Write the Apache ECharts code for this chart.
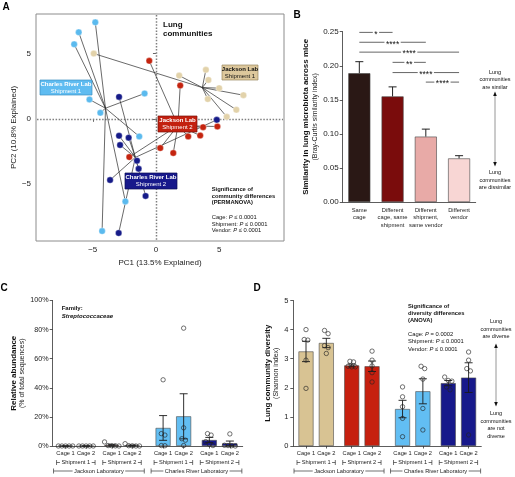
<!DOCTYPE html>
<html><head><meta charset="utf-8">
<script src="https://cdn.jsdelivr.net/npm/echarts@6/dist/echarts.min.js"></script>
<style>html,body{margin:0;padding:0;background:#fff}#c{width:515px;height:477px}</style>
</head><body><div id="c"></div>
<script>
// ---------------- Panel A: PCA of lung communities (PC1, PC2) ----------------
const pcaJacksonS1 = [[-4.92,5.0],[1.84,3.31],[3.95,3.75],[4.15,2.98],[5.0,2.35],[6.92,1.81],[4.1,1.51],[6.36,0.69],[5.6,0.15]];
const pcaJacksonS2 = [[-0.53,4.44],[1.92,2.55],[-2.11,-2.93],[0.34,-2.24],[1.37,-2.62],[2.55,-1.35],[3.5,-1.28],[3.73,-0.64],[4.86,-0.59]];
const pcaCharlesS1 = [[-4.80,7.39],[-6.11,6.63],[-6.47,5.71],[-5.26,1.48],[-4.40,0.46],[-0.90,1.94],[-1.32,-1.35],[-2.42,-6.33],[-4.26,-8.6]];
const pcaCharlesS2 = [[-2.92,1.68],[-2.92,-1.30],[-2.16,-1.45],[-2.84,-2.01],[-1.5,-3.21],[-1.37,-3.83],[-3.63,-4.69],[-0.82,-5.91],[-2.95,-8.75],[4.81,-0.08]];
const pcaTicks = [-5, 0, 5];

// ---------------- Panel B: Bray-Curtis similarity ----------------
const simCategories = ['Same\ncage','Different\ncage, same\nshipment','Different\nshipment,\nsame vendor','Different\nvendor'];
const simMeans = [0.189, 0.155, 0.096, 0.064];
const simSem = [0.017, 0.014, 0.011, 0.004];
const simComparisons = [[0,1,'*'],[0,2,'****'],[0,3,'****'],[1,2,'**'],[1,3,'****'],[2,3,'****']];
const simComparisonLevels = [0.249, 0.2345, 0.22, 0.205, 0.19, 0.176];

// ---------------- Panels C & D: per cage groups ----------------
const cageLabels = ['Cage 1','Cage 2','Cage 1','Cage 2','Cage 1','Cage 2','Cage 1','Cage 2'];
const shipmentLabels = ['Shipment 1','Shipment 2','Shipment 1','Shipment 2'];
const labLabels = ['Jackson Laboratory','Charles River Laboratory'];

const streptoMeans = [0, 0, 0.6, 0.4, 12.4, 20.4, 4.1, 1.8];
const streptoSem = [0, 0, 0.5, 0.3, 8.5, 15.5, 1.8, 1.6];
const streptoPoints = [
  [0,0,0,0,0],[0,0,0,0,0],[2.8,0.3,0.2,0.1,0],[1.6,0.2,0.1,0,0],
  [45.5,8.5,7.5,0.3,0.2],[81,12.5,5,4,0.3],[8.5,7.5,3,1.2,0.3],[8.3,0.5,0.3,0.2,0]
];
const shannonMeans = [3.25, 3.54, 2.77, 2.74, 1.27, 1.88, 2.16, 2.35];
const shannonSem = [0.35, 0.16, 0.05, 0.18, 0.30, 0.43, 0.09, 0.51];
const shannonPoints = [
  [4.0,3.66,3.64,2.95,1.98],[3.97,3.86,3.45,3.38,3.18],[2.91,2.89,2.74,2.72,2.72],[3.26,2.95,2.75,2.52,2.2],
  [2.03,1.69,1.35,0.95,0.32],[2.74,2.66,2.3,1.29,0.55],[2.37,2.25,2.23,2.03,1.93],[3.23,2.95,2.66,2.58,0.38]
];

// ---------------- styling / layout ----------------
const FONT = '"Liberation Sans", Arial, sans-serif';
const groupFill = ['#d8c393','#c6200f','#62bef3','#17198b'];
const groupPoint = ['#e2d2aa','#c4240f','#5bbaee','#161b88'];
const simFill = ['#2a1815','#7a0c0c','#e8aaa7','#f8d6d4'];
const SLOTS = 37;
const barSlot = [2,6,11,15,21,25,30,34];
const slotNames = Array.from({length:SLOTS}, (_, i) => { const k = barSlot.indexOf(i); return k >= 0 ? cageLabels[k] : ''; });
const slotSet = new Set(barSlot);
const PCA_X = [-9.49, 10.13], PCA_Y = [-9.36, 8.03];

const chart = echarts.init(document.getElementById('c'));

function centroid(p) { let x = 0, y = 0; p.forEach(q => { x += q[0]; y += q[1]; }); return [x / p.length, y / p.length]; }
function swarm(values, pxPerUnit, spacing, thresh) {
  const idx = values.map((v, i) => i).sort((a, b) => values[b] - values[a]);
  const offs = new Array(values.length).fill(0);
  let cl = [idx[0]];
  const flush = () => { const n = cl.length; cl.forEach((k, j) => { offs[k] = (j - (n - 1) / 2) * spacing; }); };
  for (let t = 1; t < idx.length; t++) {
    if ((values[idx[t - 1]] - values[idx[t]]) * pxPerUnit < thresh) cl.push(idx[t]); else { flush(); cl = [idx[t]]; }
  }
  flush();
  return offs;
}

const series = [];
const pcaGroups = [pcaJacksonS1, pcaJacksonS2, pcaCharlesS1, pcaCharlesS2];
pcaGroups.forEach((pts, g) => {
  const c = centroid(pts);
  series.push({type:'lines', coordinateSystem:'cartesian2d', xAxisIndex:0, yAxisIndex:0, silent:true, z:4,
    lineStyle:{color:'#2a2a2a', width:0.7, opacity:1},
    data: pts.map(p => ({coords:[c, p]}))});
});
pcaGroups.forEach((pts, g) => {
  series.push({type:'scatter', xAxisIndex:0, yAxisIndex:0, data:pts, symbolSize:6.5, z:5, silent:true,
    itemStyle:{color:groupPoint[g], borderColor:'rgba(255,255,255,0.6)', borderWidth:0.6, opacity:1}});
});

// Panel B
series.push({type:'bar', xAxisIndex:1, yAxisIndex:1, barWidth:22, silent:true,
  data: simMeans.map((v, i) => ({value:v, itemStyle:{color:simFill[i]}})),
  itemStyle:{borderColor:'#444', borderWidth:0.6}});
series.push({type:'custom', xAxisIndex:1, yAxisIndex:1, silent:true, z:5, encode:{x:0, y:1},
  data: simMeans.map((m, i) => [i, m, m + simSem[i]]),
  renderItem(params, api) {
    const a = api.coord([api.value(0), api.value(1)]), b = api.coord([api.value(0), api.value(2)]);
    const st = {stroke:'#222', lineWidth:1};
    return {type:'group', children:[
      {type:'line', shape:{x1:a[0], y1:a[1], x2:b[0], y2:b[1]}, style:st},
      {type:'line', shape:{x1:b[0]-4, y1:b[1], x2:b[0]+4, y2:b[1]}, style:st}]};
  }});
series.push({type:'custom', xAxisIndex:1, yAxisIndex:1, silent:true, z:6, encode:{x:0, y:2},
  data: simComparisons.map((c, k) => [c[0], c[1], simComparisonLevels[k]]),
  renderItem(params, api) {
    const a = api.coord([api.value(0), api.value(2)]), b = api.coord([api.value(1), api.value(2)]);
    return {type:'group', children:[
      {type:'line', shape:{x1:a[0], y1:a[1], x2:b[0], y2:b[1]}, style:{stroke:'#222', lineWidth:0.7}},
      {type:'text', x:(a[0]+b[0])/2, y:a[1]+2, style:{text:simComparisons[params.dataIndex][2], align:'center', verticalAlign:'middle',
        fontSize:8.5, fontFamily:FONT, fill:'#111', backgroundColor:'#fff', padding:[0,1.5]}}]};
  }});

// Panels C & D
function barPanel(axisIdx, means, sem, points, pxPerUnit) {
  series.push({type:'bar', xAxisIndex:axisIdx, yAxisIndex:axisIdx, barWidth:15, silent:true,
    data: slotNames.map((n, i) => { const k = barSlot.indexOf(i); return k < 0 ? null : {value:means[k], itemStyle:{color:groupFill[k >> 1]}}; }),
    itemStyle:{borderColor:'#4a4a4a', borderWidth:0.6}});
  series.push({type:'custom', xAxisIndex:axisIdx, yAxisIndex:axisIdx, silent:true, z:5, encode:{x:0, y:1},
    data: means.map((m, k) => [barSlot[k], m, Math.max(0, m - sem[k]), m + sem[k]]),
    renderItem(params, api) {
      const lo = api.coord([api.value(0), api.value(2)]), hi = api.coord([api.value(0), api.value(3)]);
      const st = {stroke:'#1a1a1a', lineWidth:0.9};
      return {type:'group', children:[
        {type:'line', shape:{x1:lo[0], y1:lo[1], x2:hi[0], y2:hi[1]}, style:st},
        {type:'line', shape:{x1:hi[0]-4, y1:hi[1], x2:hi[0]+4, y2:hi[1]}, style:st},
        {type:'line', shape:{x1:lo[0]-4, y1:lo[1], x2:lo[0]+4, y2:lo[1]}, style:st}]};
    }});
  const pts = [];
  points.forEach((vals, k) => {
    const offs = swarm(vals, pxPerUnit, 3.6, 4);
    vals.forEach((v, j) => pts.push({value:[barSlot[k], v], symbolOffset:[offs[j], 0]}));
  });
  series.push({type:'scatter', xAxisIndex:axisIdx, yAxisIndex:axisIdx, silent:true, z:7, symbolSize:4.4, data:pts,
    itemStyle:{color:'rgba(0,0,0,0)', borderColor:'#222', borderWidth:0.8}});
}
barPanel(2, streptoMeans, streptoSem, streptoPoints, 145.5 / 100);
barPanel(3, shannonMeans, shannonSem, shannonPoints, 145.5 / 5);

const axisLineSt = {show:true, lineStyle:{color:'#333', width:0.8}};
const tickSt = {show:true, length:3, lineStyle:{color:'#333', width:0.8}};
const minus = v => String(v).replace('-', '\u2212');
function slotXAxis(grid) {
  return {type:'category', gridIndex:grid, data:slotNames, boundaryGap:true, axisLine:axisLineSt,
    axisTick:{show:true, alignWithLabel:true, length:2.5, interval:(i) => slotSet.has(i), lineStyle:{color:'#333', width:0.8}},
    axisLabel:{interval:0, fontSize:5.7, color:'#222', margin:4, fontFamily:FONT}, splitLine:{show:false}};
}

const graphic = [];
function txt(x, y, s, o) {
  return {type:'text', x, y, silent:true, z:50, style:Object.assign({text:s, fill:'#111', fontSize:6, fontFamily:FONT, align:'left', verticalAlign:'middle'}, o || {})};
}
// panel letters
[['A',6,7],['B',297,15],['C',4,288],['D',257,288]].forEach(a => graphic.push(txt(a[1], a[2], a[0], {fontSize:10, fontWeight:'bold', align:'center', fill:'#000'})));
// Panel A annotations
graphic.push(txt(163, 25, 'Lung', {fontSize:8, fontWeight:'bold'}));
graphic.push(txt(163, 34, 'communities', {fontSize:8, fontWeight:'bold'}));
function labelBox(x, y, w, h, fill, stroke, color, l1, l2) {
  graphic.push({type:'rect', silent:true, z:40, shape:{x, y, width:w, height:h}, style:{fill, stroke, lineWidth:0.7}});
  graphic.push(txt(x + w / 2, y + h * 0.3, l1, {fontSize:6, fontWeight:'bold', fill:color, align:'center'}));
  graphic.push(txt(x + w / 2, y + h * 0.73, l2, {fontSize:6, fill:color, align:'center'}));
}
labelBox(40, 80, 52, 15, '#5fbcf1', '#3c8fc0', '#fff', 'Charles River Lab', 'Shipment 1');
labelBox(222, 65, 36, 15, '#dcc79c', '#9a8660', '#111', 'Jackson Lab', 'Shipment 1');
labelBox(158, 116, 39, 16, '#c3200f', '#7a1208', '#fff', 'Jackson Lab', 'Shipment 2');
labelBox(125, 173, 52, 16, '#17198b', '#0a0c55', '#fff', 'Charles River Lab', 'Shipment 2');
const rich = {b:{fontWeight:'bold', fontSize:5.8, fontFamily:FONT, fill:'#111'}, n:{fontSize:5.8, fontFamily:FONT, fill:'#111'}, i:{fontStyle:'italic', fontSize:5.8, fontFamily:FONT, fill:'#111'}};
function sigBlock(x, ys, head, lines) {
  head.forEach((h, k) => graphic.push(txt(x, ys[k], h, {fontSize:5.8, fontWeight:'bold'})));
  lines.forEach((l, k) => graphic.push(txt(x, ys[head.length + k], '{n|' + l[0] + ' }{i|P}{n|' + l[1] + '}', {rich})));
}
sigBlock(211.7, [189.5,196,202.5,217.5,224,230.5], ['Significance of','community differences','(PERMANOVA)'],
  [['Cage:',' \u2264 0.0001'],['Shipment:',' \u2264 0.0001'],['Vendor:',' \u2264 0.0001']]);
sigBlock(408, [306,313,320,334,341.5,349], ['Significance of','diversity differences','(ANOVA)'],
  [['Cage:',' = 0.0002'],['Shipment:',' \u2264 0.0001'],['Vendor:',' \u2264 0.0001']]);
graphic.push(txt(61.7, 308.5, 'Family:', {fontSize:6, fontWeight:'bold'}));
graphic.push(txt(61.7, 316, 'Streptococcaceae', {fontSize:6, fontWeight:'bold', fontStyle:'italic'}));
function arrowAnno(x, top, bottom, topLines, topY, botLines, botY) {
  topLines.forEach((s, k) => graphic.push(txt(x, topY + k * 7.5, s, {fontSize:5.5, align:'center'})));
  botLines.forEach((s, k) => graphic.push(txt(x, botY + k * 7.5, s, {fontSize:5.5, align:'center'})));
  graphic.push({type:'line', silent:true, shape:{x1:x, y1:top + 2, x2:x, y2:bottom - 2}, style:{stroke:'#8a8a8a', lineWidth:0.9}});
  graphic.push({type:'polygon', silent:true, shape:{points:[[x, top - 1.5],[x - 1.8, top + 3],[x + 1.8, top + 3]]}, style:{fill:'#111'}});
  graphic.push({type:'polygon', silent:true, shape:{points:[[x, bottom + 1.5],[x - 1.8, bottom - 3],[x + 1.8, bottom - 3]]}, style:{fill:'#111'}});
}
arrowAnno(495, 93, 165, ['Lung','communities','are similar'], 72, ['Lung','communities','are dissimilar'], 172.5);
arrowAnno(496, 345, 405, ['Lung','communities','are diverse'], 321.5, ['Lung','communities','are not','diverse'], 413.5);

chart.setOption({
  animation:false,
  textStyle:{fontFamily:FONT},
  grid:[
    {left:36, top:14, width:248, height:227, show:true, borderColor:'#8c8c8c', borderWidth:1, backgroundColor:'transparent'},
    {left:342.7, top:31.7, width:133, height:170.3},
    {left:52.7, top:300.5, width:190, height:145.5},
    {left:293.3, top:300.5, width:188, height:145.5}
  ],
  xAxis:[
    {type:'value', gridIndex:0, min:PCA_X[0], max:PCA_X[1], axisLine:{show:false}, splitLine:{show:false},
      axisTick:{show:true, customValues:pcaTicks, length:3, lineStyle:{color:'#666'}},
      axisLabel:{customValues:pcaTicks, fontSize:8, color:'#222', margin:5, formatter:minus},
      name:'PC1 (13.5% Explained)', nameLocation:'middle', nameGap:18, nameTextStyle:{fontSize:8, color:'#222'}},
    {type:'category', gridIndex:1, data:simCategories, axisLine:axisLineSt, axisTick:{show:false},
      axisLabel:{interval:0, fontSize:5.8, lineHeight:7.2, color:'#222', margin:5}},
    slotXAxis(2), slotXAxis(3)
  ],
  yAxis:[
    {type:'value', gridIndex:0, min:PCA_Y[0], max:PCA_Y[1], axisLine:{show:false}, splitLine:{show:false},
      axisTick:{show:true, customValues:pcaTicks, length:3, lineStyle:{color:'#666'}},
      axisLabel:{customValues:pcaTicks, fontSize:8, color:'#222', margin:5, formatter:minus},
      name:'PC2 (10.8% Explained)', nameLocation:'middle', nameRotate:90, nameGap:17, nameTextStyle:{fontSize:8, color:'#222'}},
    {type:'value', gridIndex:1, min:0, max:0.25, interval:0.05, axisLine:axisLineSt, axisTick:tickSt, splitLine:{show:false},
      axisLabel:{fontSize:8, color:'#222', margin:4, formatter:v => v.toFixed(2)},
      name:'{b|Similarity in lung microbiota across mice}\n{n|(Bray-Curtis similarity index)}', nameLocation:'middle', nameRotate:90, nameGap:23,
      nameTextStyle:{rich:{b:{fontSize:8, fontWeight:'bold', color:'#111', lineHeight:9}, n:{fontSize:7, color:'#222', lineHeight:9}}}},
    {type:'value', gridIndex:2, min:0, max:100, interval:20, axisLine:axisLineSt, axisTick:tickSt, splitLine:{show:false},
      axisLabel:{fontSize:7.2, color:'#222', margin:4, formatter:'{value}%'},
      name:'{b|Relative abundance}\n{n|(% of total sequences)}', nameLocation:'middle', nameRotate:90, nameGap:27,
      nameTextStyle:{rich:{b:{fontSize:8, fontWeight:'bold', color:'#111', lineHeight:8}, n:{fontSize:7, color:'#222', lineHeight:8}}}},
    {type:'value', gridIndex:3, min:0, max:5, interval:1, axisLine:axisLineSt, axisTick:tickSt, splitLine:{show:false},
      axisLabel:{fontSize:7.5, color:'#222', margin:5},
      name:'{b|Lung community diversity}\n{n|(Shannon index)}', nameLocation:'middle', nameRotate:90, nameGap:13,
      nameTextStyle:{rich:{b:{fontSize:7.8, fontWeight:'bold', color:'#111', lineHeight:8.5}, n:{fontSize:7, color:'#222', lineHeight:8.5}}}}
  ],
  series,
  graphic
});

// dotted zero lines in panel A, placed through the axes' own scales
function zeroLines() {
  const x0 = Math.round(chart.convertToPixel({xAxisIndex:0}, 0)) + 0.5;
  const y0 = Math.round(chart.convertToPixel({yAxisIndex:0}, 0)) + 0.5;
  const xl = chart.convertToPixel({xAxisIndex:0}, PCA_X[0]), xr = chart.convertToPixel({xAxisIndex:0}, PCA_X[1]);
  const yt = chart.convertToPixel({yAxisIndex:0}, PCA_Y[1]), yb = chart.convertToPixel({yAxisIndex:0}, PCA_Y[0]);
  const st = {stroke:'#7f7f7f', lineWidth:1.5, lineDash:[1.5, 1.6]};
  return [
    {type:'line', silent:true, z:1, shape:{x1:x0, y1:yt + 1, x2:x0, y2:yb - 1}, style:st},
    {type:'line', silent:true, z:1, shape:{x1:xl + 1, y1:y0, x2:xr - 1, y2:y0}, style:st}
  ];
}
// bracket rows under panels C and D, placed through the axes' own scales
function brackets(axisIdx) {
  const px = s => chart.convertToPixel({xAxisIndex:axisIdx}, s);
  const y0 = chart.convertToPixel({yAxisIndex:axisIdx}, 0);
  const out = [];
  function br(x0, x1, y, label) {
    const st = {stroke:'#333', lineWidth:0.7};
    out.push({type:'line', silent:true, shape:{x1:x0, y1:y, x2:x1, y2:y}, style:st});
    out.push({type:'line', silent:true, shape:{x1:x0, y1:y - 2.5, x2:x0, y2:y + 2.5}, style:st});
    out.push({type:'line', silent:true, shape:{x1:x1, y1:y - 2.5, x2:x1, y2:y + 2.5}, style:st});
    out.push(txt((x0 + x1) / 2, y, label, {fontSize:5.7, align:'center', fill:'#222', backgroundColor:'#fff', padding:[0,1.5]}));
  }
  shipmentLabels.forEach((s, p) => br(px(barSlot[2 * p]) - 9, px(barSlot[2 * p + 1]) + 9, y0 + 16.5, s));
  labLabels.forEach((s, l) => br(px(barSlot[4 * l]) - 12, px(barSlot[4 * l + 3]) + 12, y0 + 25, s));
  return out;
}
chart.setOption({graphic: graphic.concat(brackets(2), brackets(3), zeroLines())});
</script>
</body></html>
